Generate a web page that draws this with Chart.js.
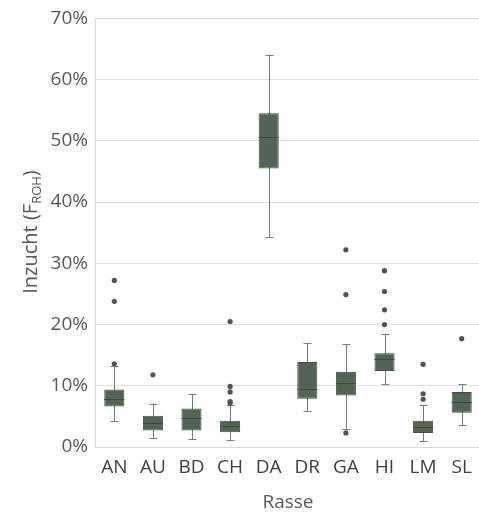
<!DOCTYPE html>
<html>
<head>
<meta charset="utf-8">
<script src="https://cdn.jsdelivr.net/npm/chart.js@4/dist/chart.umd.min.js"></script>
<style>
  html, body { margin: 0; padding: 0; background: #fff; overflow: hidden; }
  #wrap { width: 485px; height: 514px; position: relative; }
</style>
</head>
<body>
<div id="wrap"><canvas id="chart"></canvas></div>
<script>
const categories = ["AN", "AU", "BD", "CH", "DA", "DR", "GA", "HI", "LM", "SL"];
const whiskerLow  = [4.2, 1.5, 1.3, 1.2, 34.3, 5.9, 3.0, 10.3, 1.0, 3.6];
const q1          = [6.6, 2.7, 2.7, 2.4, 45.5, 7.9, 8.4, 12.4, 2.3, 5.6];
const median      = [7.9, 3.9, 4.7, 3.4, 50.7, 9.4, 10.4, 14.3, 3.3, 7.4];
const q3          = [9.4, 5.1, 6.3, 4.3, 54.5, 13.9, 12.3, 15.3, 4.3, 9.0];
const whiskerHigh = [13.2, 7.1, 8.7, 6.8, 64.1, 17.0, 16.8, 18.5, 6.8, 10.3];
const outliers = [
    [13.6, 23.8, 27.2],
    [11.8],
    [],
    [7.2, 7.4, 9.0, 9.9, 20.5],
    [],
    [],
    [2.3, 24.9, 32.2],
    [20.0, 22.4, 25.4, 28.8],
    [7.8, 8.7, 13.5],
    [17.7]
];
const yTicks = [0, 10, 20, 30, 40, 50, 60, 70];

const fontFamily = "'Open Sans', sans-serif";

const outlierPoints = [];
outliers.forEach((list, i) => {
    list.forEach(v => outlierPoints.push({ x: categories[i], y: v }));
});

// whiskers behind the boxes, medians on top, y title with subscript
const boxPlotPlugin = {
    id: 'boxPlot',
    beforeDatasetsDraw(chart) {
        const ctx = chart.ctx;
        const xs = chart.scales.x, ys = chart.scales.y;
        ctx.save();
        ctx.strokeStyle = '#728072';
        ctx.lineWidth = 1;
        categories.forEach((c, i) => {
            const x = Math.round(xs.getPixelForValue(i)) + 0.5;
            const yLo = ys.getPixelForValue(whiskerLow[i]);
            const yHi = ys.getPixelForValue(whiskerHigh[i]);
            ctx.beginPath();
            ctx.moveTo(x, yLo);
            ctx.lineTo(x, yHi);
            ctx.moveTo(x - 4, Math.round(yLo) + 0.5);
            ctx.lineTo(x + 4, Math.round(yLo) + 0.5);
            ctx.moveTo(x - 4, Math.round(yHi) + 0.5);
            ctx.lineTo(x + 4, Math.round(yHi) + 0.5);
            ctx.stroke();
        });
        ctx.restore();
    },
    afterDatasetsDraw(chart) {
        const ctx = chart.ctx;
        const ys = chart.scales.y;
        const meta = chart.getDatasetMeta(0);
        ctx.save();
        ctx.strokeStyle = '#3b483b';
        ctx.lineWidth = 1;
        meta.data.forEach((bar, i) => {
            const y = Math.round(ys.getPixelForValue(median[i])) + 0.5;
            ctx.beginPath();
            ctx.moveTo(bar.x - bar.width / 2, y);
            ctx.lineTo(bar.x + bar.width / 2, y);
            ctx.stroke();
        });
        ctx.restore();
    },
    afterDraw(chart) {
        const ctx = chart.ctx;
        ctx.save();
        ctx.fillStyle = '#595959';
        ctx.textBaseline = 'alphabetic';
        const main1 = 'Inzucht (F';
        const sub = 'ROH';
        const main2 = ')';
        ctx.font = `20px ${fontFamily}`;
        const w1 = ctx.measureText(main1).width;
        const w3 = ctx.measureText(main2).width;
        ctx.font = `13px ${fontFamily}`;
        const w2 = ctx.measureText(sub).width;
        const total = w1 + w2 + w3;
        ctx.translate(37, 232);
        ctx.rotate(-Math.PI / 2);
        let x = -total / 2;
        ctx.font = `20px ${fontFamily}`;
        ctx.fillText(main1, x, 0);
        x += w1;
        ctx.font = `13px ${fontFamily}`;
        ctx.fillText(sub, x, 4);
        x += w2;
        ctx.font = `20px ${fontFamily}`;
        ctx.fillText(main2, x, 0);
        ctx.restore();
    }
};

new Chart(document.getElementById('chart'), {
    type: 'bar',
    data: {
        labels: categories,
        datasets: [
            {
                label: 'box',
                data: q1.map((v, i) => [v, q3[i]]),
                backgroundColor: '#546454',
                borderColor: '#414e41',
                borderWidth: 1,
                borderSkipped: false,
                barPercentage: 0.52,
                categoryPercentage: 1,
                order: 2
            },
            {
                type: 'scatter',
                label: 'outliers',
                data: outlierPoints,
                pointRadius: 2.6,
                pointBackgroundColor: '#4a574a',
                pointBorderWidth: 0,
                order: 1
            }
        ]
    },
    options: {
        responsive: true,
        maintainAspectRatio: false,
        animation: false,
        layout: { padding: { top: 6, right: 1, left: 0, bottom: 0 } },
        plugins: {
            legend: { display: false },
            tooltip: { enabled: false }
        },
        scales: {
            x: {
                type: 'category',
                grid: { display: false },
                border: { color: '#d9d9d9' },
                ticks: {
                    color: '#404040',
                    font: { family: fontFamily, size: 19 },
                    padding: 1,
                    maxRotation: 0,
                    autoSkip: false
                },
                title: {
                    display: true,
                    text: 'Rasse',
                    color: '#595959',
                    font: { family: fontFamily, size: 19 },
                    padding: { top: 3, bottom: 0 }
                },
                afterFit(scale) { scale.height = 67; }
            },
            y: {
                min: 0,
                max: 70,
                afterBuildTicks(scale) { scale.ticks = yTicks.map(v => ({ value: v })); },
                grid: { color: '#e0e0e0', drawTicks: false },
                border: { color: '#d9d9d9' },
                ticks: {
                    color: '#595959',
                    font: { family: fontFamily, size: 19 },
                    padding: 7,
                    callback: v => v + '%'
                },
                afterFit(scale) { scale.width = 95; }
            }
        }
    },
    plugins: [boxPlotPlugin]
});
</script>
</body>
</html>
